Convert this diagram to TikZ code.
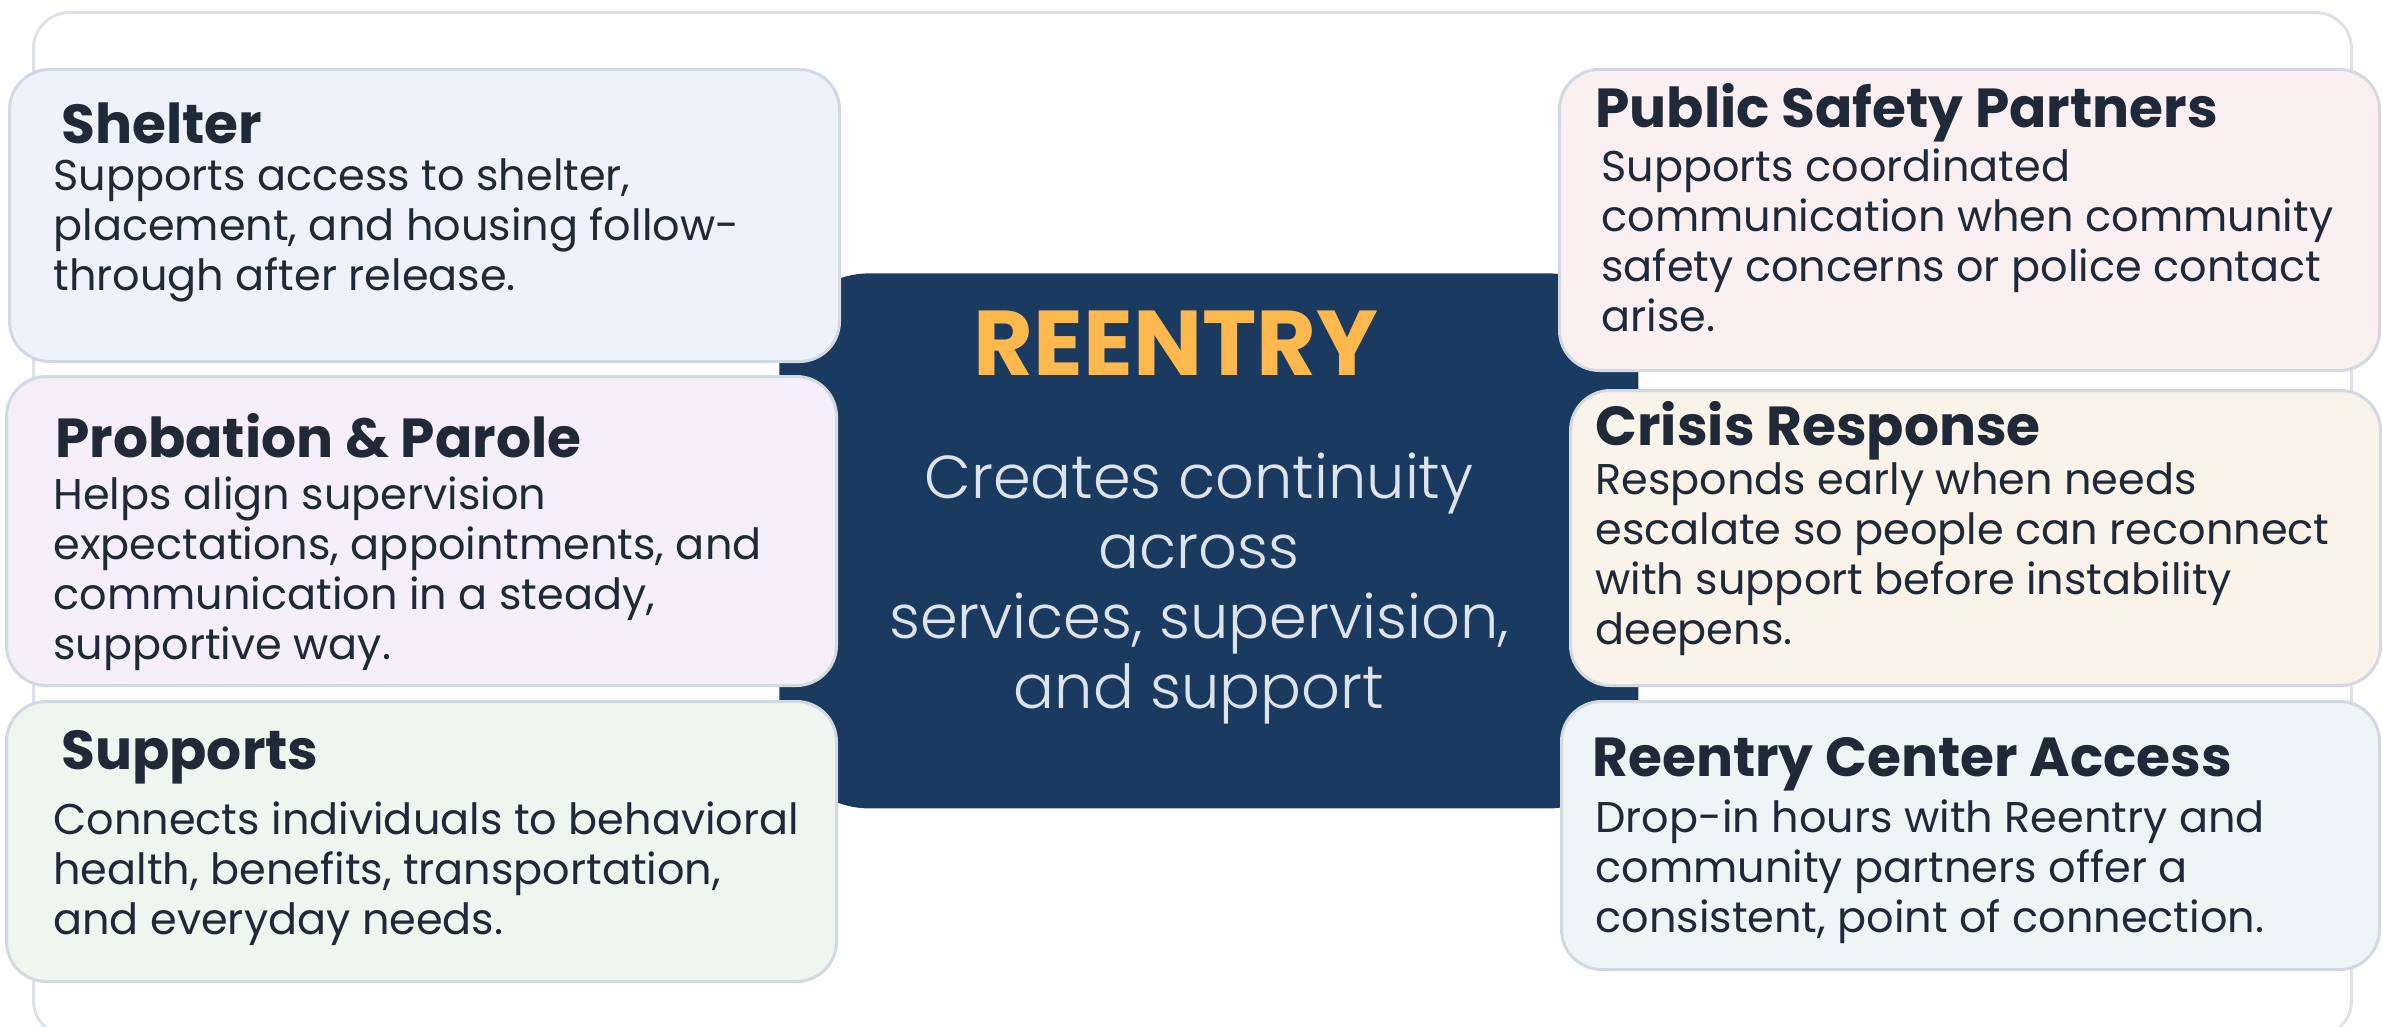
\documentclass[tikz,border=0pt]{standalone}
\usepackage{fontspec}
\setmainfont{Poppins}
\newfontfamily\lightfont{Poppins Light}
\definecolor{ink}{HTML}{1F2937}
\definecolor{cardline}{HTML}{D3D9E1}
\definecolor{frameline}{HTML}{DDE1E8}
\definecolor{navy}{HTML}{1B3A5F}
\definecolor{gold}{HTML}{FDB94E}
\definecolor{mist}{HTML}{DCE3EC}
\definecolor{fshelter}{HTML}{EEF3FB}
\definecolor{fprob}{HTML}{F4EFFA}
\definecolor{fsupp}{HTML}{EEF6F0}
\definecolor{fpublic}{HTML}{FAEFF1}
\definecolor{fcrisis}{HTML}{FAF3E9}
\definecolor{fcenter}{HTML}{EDF5F7}
\newcommand{\stack}[2]{\vtop{\baselineskip=#1\lineskiplimit=-100pt\lineskip=0pt\halign{##\hfil\cr#2\crcr}}}
\newcommand{\cstack}[2]{\vtop{\baselineskip=#1\lineskiplimit=-100pt\lineskip=0pt\halign{\hfil##\hfil\cr#2\crcr}}}
\tikzset{
  card/.style={draw=cardline, line width=1.5pt, rounded corners=20pt, anchor=north west, inner sep=0pt},
  framebox/.style={draw=frameline, line width=1.5pt, rounded corners=18pt, anchor=north west, inner sep=0pt},
  corebox/.style={fill=navy, rounded corners=45pt, anchor=north west, inner sep=0pt},
  cardtitle/.style={anchor=base west, inner sep=0pt, text=ink, font=\fontsize{27.5}{31}\selectfont\bfseries},
  cardbody/.style={anchor=base west, inner sep=0pt, text=ink, font=\fontsize{21.5}{25}\selectfont},
}
\begin{document}
\begin{tikzpicture}[x=0.5pt,y=-0.5pt]
\useasboundingbox (0,0) rectangle (2382,1027);
\node[framebox, minimum width=1159pt, minimum height=512pt] (frame) at (32,11) {};
\node[corebox, minimum width=429.5pt, minimum height=267.5pt] (core) at (779,273) {};
\node[card, fill=fshelter, minimum width=415pt, minimum height=146pt] (shelter) at (8,68) {};
\node[card, fill=fprob, minimum width=415pt, minimum height=154.5pt] (prob) at (5,375) {};
\node[card, fill=fsupp, minimum width=415pt, minimum height=140pt] (supp) at (5,700) {};
\node[card, fill=fpublic, minimum width=410pt, minimum height=150.5pt] (public) at (1558,68) {};
\node[card, fill=fcrisis, minimum width=405pt, minimum height=147.5pt] (crisis) at (1569,389) {};
\node[card, fill=fcenter, minimum width=409pt, minimum height=134pt] (rcenter) at (1560,700) {};
% center text
\node[anchor=base, inner sep=0pt, text=gold, font=\fontsize{46}{50}\selectfont\bfseries] (coreT) at (1176,375) {REENTRY};
\node[anchor=base, inner sep=0pt, text=mist, font=\fontsize{30.3}{35}\lightfont] (coreB) at (1199,498)
  {\cstack{35pt}{Creates continuity\cr across\cr services, supervision,\cr and support}};
% left cards
\node[cardtitle] (shelterT) at (61,144) {Shelter};
\node[cardbody] (shelterB) at (53,191) {\stack{25pt}{Supports access to shelter,\cr placement, and housing follow-\cr through after release.}};
\node[cardtitle] (probT) at (55,457) {Probation \& Parole};
\node[cardbody] (probB) at (53,509) {\stack{25pt}{Helps align supervision\cr expectations, appointments, and\cr communication in a steady,\cr supportive way.}};
\node[cardtitle] (suppT) at (61,769) {Supports};
\node[cardbody] (suppB) at (53,834) {\stack{25pt}{Connects individuals to behavioral\cr health, benefits, transportation,\cr and everyday needs.}};
% right cards
\node[cardtitle] (publicT) at (1595,128) {Public Safety Partners};
\node[cardbody] (publicB) at (1601,182) {\stack{25pt}{Supports coordinated\cr communication when community\cr safety concerns or police contact\cr arise.}};
\node[cardtitle] (crisisT) at (1595,445) {Crisis Response};
\node[cardbody] (crisisB) at (1595,494) {\stack{25pt}{Responds early when needs\cr escalate so people can reconnect\cr with support before instability\cr deepens.}};
\node[cardtitle] (rcenterT) at (1592,776) {Reentry Center Access};
\node[cardbody] (rcenterB) at (1595,832) {\stack{25pt}{Drop-in hours with Reentry and\cr community partners offer a\cr consistent, point of connection.}};
\end{tikzpicture}
\end{document}
